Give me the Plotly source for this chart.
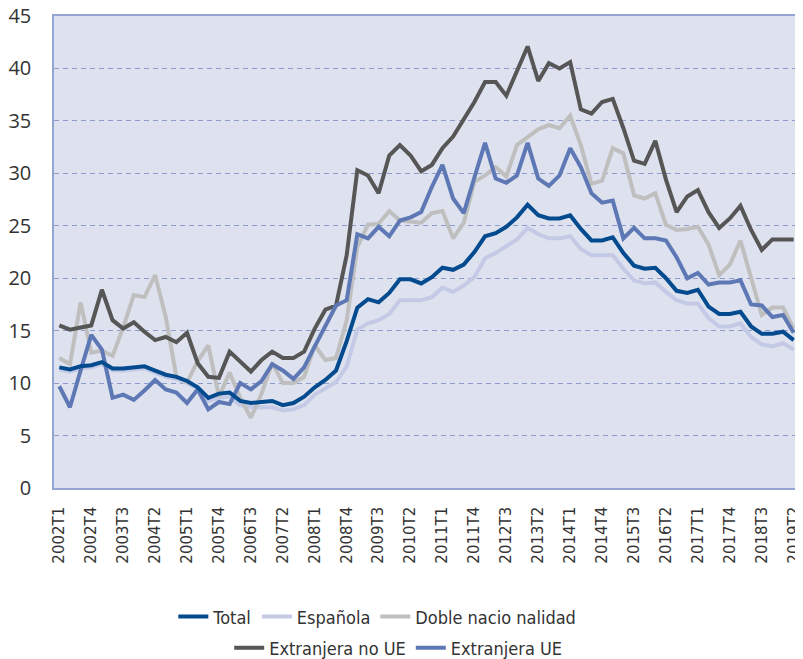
import plotly.graph_objects as go

quarters = [f"{y}T{q}" for y in range(2002, 2020) for q in range(1, 5)][:70]
tick_labels = quarters[::3]

total = [11.5, 11.3, 11.6, 11.7, 12.0, 11.4, 11.4, 11.5, 11.6, 11.2,
         10.8, 10.6, 10.2, 9.6, 8.6, 9.0, 9.1, 8.3, 8.1, 8.2,
         8.3, 7.9, 8.1, 8.7, 9.6, 10.3, 11.2, 14.0, 17.2, 18.0,
         17.7, 18.6, 19.9, 19.9, 19.5, 20.1, 21.0, 20.8, 21.3, 22.5,
         24.0, 24.3, 24.9, 25.8, 27.0, 26.0, 25.7, 25.7, 26.0, 24.7,
         23.6, 23.6, 23.9, 22.4, 21.2, 20.9, 21.0, 20.0, 18.8, 18.6,
         18.9, 17.3, 16.6, 16.6, 16.8, 15.4, 14.7, 14.7, 14.9, 14.1]

espanola = [11.3, 11.1, 11.4, 11.5, 11.8, 11.2, 11.2, 11.3, 11.4, 11.0,
            10.6, 10.4, 10.0, 9.4, 8.3, 8.6, 8.7, 7.9, 7.7, 7.7,
            7.7, 7.4, 7.5, 7.9, 8.9, 9.5, 10.1, 11.6, 15.1, 15.7,
            16.0, 16.6, 17.9, 17.9, 17.9, 18.2, 19.1, 18.7, 19.3, 20.1,
            21.9, 22.4, 23.0, 23.7, 24.8, 24.2, 23.8, 23.8, 24.0, 22.8,
            22.2, 22.2, 22.2, 20.9, 19.8, 19.5, 19.6, 18.7, 17.9, 17.6,
            17.6, 16.2, 15.4, 15.4, 15.7, 14.4, 13.7, 13.5, 13.8, 13.2]

doble = [12.4, 11.8, 17.7, 12.9, 13.1, 12.6, 15.3, 18.4, 18.2, 20.3,
         16.3, 10.6, 10.1, 12.1, 13.6, 8.7, 11.0, 8.6, 6.7, 9.0,
         11.9, 10.0, 10.0, 10.6, 13.6, 12.2, 12.4, 16.0, 23.0, 25.1,
         25.2, 26.4, 25.5, 25.4, 25.3, 26.2, 26.4, 23.8, 25.3, 29.2,
         29.8, 30.6, 29.7, 32.7, 33.5, 34.2, 34.6, 34.3, 35.5, 32.7,
         29.0, 29.3, 32.4, 31.9, 27.9, 27.6, 28.1, 25.1, 24.6, 24.7,
         24.9, 23.2, 20.3, 21.3, 23.6, 20.1, 16.5, 17.2, 17.2, 15.2]

no_ue = [15.5, 15.1, 15.3, 15.5, 18.9, 16.0, 15.2, 15.8, 14.9, 14.1,
         14.4, 13.9, 14.8, 11.9, 10.6, 10.5, 13.0, 12.0, 11.1, 12.2,
         13.0, 12.4, 12.4, 13.0, 15.2, 17.0, 17.4, 22.2, 30.3, 29.8,
         28.1, 31.7, 32.7, 31.7, 30.2, 30.8, 32.4, 33.5, 35.2, 36.8,
         38.7, 38.7, 37.4, 39.8, 42.1, 38.8, 40.5, 40.0, 40.6, 36.1,
         35.7, 36.8, 37.1, 34.3, 31.2, 30.9, 33.1, 29.4, 26.3, 27.8,
         28.4, 26.3, 24.8, 25.7, 26.9, 24.6, 22.7, 23.7, 23.7, 23.7]

ue = [9.7, 7.7, 11.2, 14.6, 13.2, 8.6, 8.9, 8.4, 9.3, 10.3,
      9.4, 9.1, 8.1, 9.4, 7.5, 8.2, 8.0, 10.0, 9.4, 10.2,
      11.8, 11.2, 10.4, 11.5, 13.5, 15.4, 17.4, 17.9, 24.2, 23.8,
      24.9, 24.0, 25.5, 25.8, 26.3, 28.7, 30.8, 27.6, 26.2, 29.6,
      32.9, 29.5, 29.1, 29.8, 32.9, 29.5, 28.8, 29.8, 32.4, 30.6,
      28.1, 27.2, 27.4, 23.8, 24.8, 23.8, 23.8, 23.6, 22.0, 20.0,
      20.5, 19.4, 19.6, 19.6, 19.8, 17.5, 17.4, 16.3, 16.5, 14.8]

series = [
    ("Española", espanola, "#C4CAE6", "legend", 2),
    ("Doble nacio nalidad", doble, "#BFBFBF", "legend", 3),
    ("Extranjera no UE", no_ue, "#565656", "legend2", 4),
    ("Extranjera UE", ue, "#5D78B4", "legend2", 5),
    ("Total", total, "#034A8E", "legend", 1),
]

fig = go.Figure()
for name, vals, color, lg, rank in series:
    fig.add_trace(go.Scatter(
        x=quarters, y=vals, name=name, mode="lines",
        line=dict(color=color, width=4),
        legend=lg, legendrank=rank,
    ))

legend_font = dict(family="DejaVu Sans Condensed, Liberation Sans Narrow, Open Sans, sans-serif",
                   size=18, color="#333333")
fig.update_layout(
    width=795, height=651,
    margin=dict(l=46, r=4, t=8, b=171, autoexpand=False),
    paper_bgcolor="white",
    plot_bgcolor="#DEE2EF",
    font=dict(family="Open Sans, sans-serif", color="#333333"),
    xaxis=dict(
        type="category", categoryorder="array", categoryarray=quarters,
        range=[-0.5, 69.5], automargin=False,
        tickmode="array", tickvals=tick_labels, ticktext=tick_labels,
        tickangle=-90, tickfont=dict(size=15, family="DejaVu Sans", color="#333333"),
        ticklabeloverflow="allow",
        showgrid=False, showline=True, linecolor="#95A5D3", linewidth=1.5,
        mirror=True, ticks="", ticklabelstandoff=11,
    ),
    yaxis=dict(
        range=[0, 45], dtick=5, tick0=0, automargin=False,
        tickfont=dict(size=20, color="#333333"),
        ticklabeloverflow="allow",
        showgrid=True, gridcolor="#8C9CCC", griddash="5px,4px", gridwidth=1,
        showline=True, linecolor="#95A5D3", linewidth=1.5, mirror=True,
        zeroline=False, ticks="", ticklabelstandoff=17,
    ),
    legend=dict(orientation="h", x=0.434, xanchor="center", y=-0.273, yanchor="middle",
                font=legend_font, bgcolor="rgba(0,0,0,0)", traceorder="normal"),
    legend2=dict(orientation="h", x=0.462, xanchor="center", y=-0.339, yanchor="middle",
                 font=legend_font, bgcolor="rgba(0,0,0,0)", traceorder="normal"),
)

fig.write_html("out.html")
